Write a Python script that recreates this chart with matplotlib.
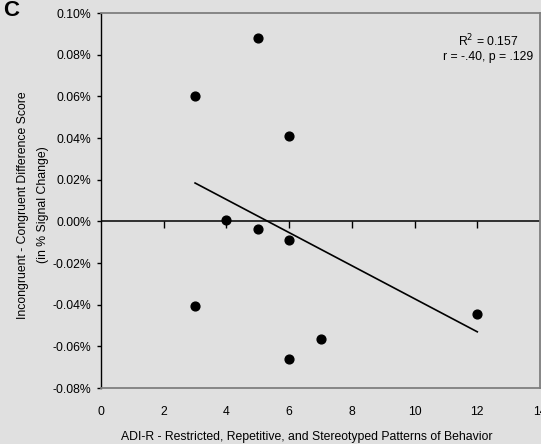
import numpy as np
import matplotlib
matplotlib.use("Agg")
import matplotlib.pyplot as plt
from matplotlib.ticker import FuncFormatter

plt.rcParams['font.family'] = ['Liberation Sans', 'DejaVu Sans']

# ADI-R restricted/repetitive score vs. difference score (% signal change)
adir_score = [3, 5, 6, 4, 5, 6, 3, 6, 7, 12]
diff_score = [0.060, 0.088, 0.041, 0.0007, -0.0035, -0.009, -0.0405, -0.066, -0.0565, -0.0445]

x_ticks = [0, 2, 4, 6, 8, 10, 12, 14]
y_ticks = [-0.08, -0.06, -0.04, -0.02, 0.00, 0.02, 0.04, 0.06, 0.08, 0.10]
stats_text = "R$^2$ = 0.157\nr = -.40, p = .129"

bg = "#e0e0e0"
fs = 8.8
fig = plt.figure(figsize=(5.41, 4.44), dpi=100, facecolor=bg)
ax = fig.add_axes([101 / 541, 56 / 444, 439 / 541, 375 / 444], facecolor=bg)

ax.set_xlim(0, 14)
ax.set_ylim(-0.08, 0.10)

# scatter points
ax.scatter(adir_score, diff_score, s=40, color="black", zorder=3)

# least-squares fit over the observed range
slope, intercept = np.polyfit(adir_score, diff_score, 1)
xs = np.array([min(adir_score), max(adir_score)])
ax.plot(xs, slope * xs + intercept, color="black", lw=1.2, zorder=2)

# zero line with downward tick marks
ax.axhline(0, color="black", lw=1.1, zorder=1)
ax.plot(x_ticks[1:-1], [0] * (len(x_ticks) - 2), linestyle="none",
        marker=3, markersize=5, markeredgewidth=1.0, color="black", zorder=1)

# spines
for side in ("top", "right", "bottom"):
    ax.spines[side].set_color("#7f7f7f")
    ax.spines[side].set_linewidth(1.3)
ax.spines["left"].set_color("black")
ax.spines["left"].set_linewidth(1.0)

ax.set_xticks(x_ticks)
ax.set_yticks(y_ticks)
ax.yaxis.set_major_formatter(FuncFormatter(lambda v, p: f"{v:.2f}%"))
ax.tick_params(axis="x", length=0, pad=13, labelsize=fs, colors="black")
ax.tick_params(axis="y", length=3, width=1, pad=4, labelsize=fs, direction="out")

ax.text(0.882, 0.947, stats_text, transform=ax.transAxes, ha="center", va="top",
        fontsize=fs, linespacing=1.2)

fig.text(11 / 541, 1 - 11 / 444, "C", fontsize=16, fontweight="bold",
         ha="center", va="center")
fig.text(23 / 541, 1 - 205 / 444, "Incongruent - Congruent Difference Score",
         rotation=90, ha="center", va="center", fontsize=fs)
fig.text(43 / 541, 1 - 205 / 444, "(in % Signal Change)",
         rotation=90, ha="center", va="center", fontsize=fs)
fig.text(307 / 541, 1 - 437 / 444,
         "ADI-R - Restricted, Repetitive, and Stereotyped Patterns of Behavior",
         ha="center", va="center", fontsize=fs)

fig.savefig("out.png", dpi=100, facecolor=bg)
